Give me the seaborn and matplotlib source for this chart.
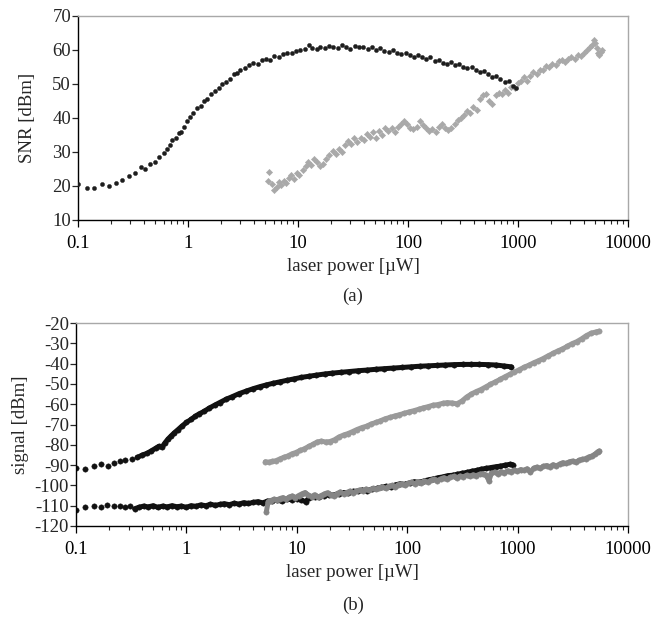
import numpy as np
import pandas as pd
import matplotlib
matplotlib.use("Agg")
import matplotlib.pyplot as plt
import seaborn as sns
from matplotlib.ticker import LogLocator, FixedLocator, NullFormatter

# ---------------- data ----------------
# panel (a): SNR vs laser power
snr_black_x = [0.10, 0.12, 0.14, 0.165, 0.19, 0.22, 0.25, 0.29, 0.33, 0.37, 0.41, 0.45, 0.50, 0.55,
               0.60, 0.64, 0.68, 0.72, 0.77, 0.82, 0.87, 0.92, 0.98, 1.05, 1.12, 1.2, 1.3, 1.4, 1.5,
               1.62, 1.75, 1.9, 2.05, 2.2, 2.4, 2.6, 2.8, 3.0, 3.3, 3.6, 3.9, 4.3, 4.7, 5.1, 5.6,
               6.1, 6.7, 7.3, 8.0, 8.8, 9.6, 10.5, 11.5, 12.5, 13.5, 14.8, 16, 17.5, 19, 21, 23,
               25, 27.5, 30, 33, 36, 39, 43, 47, 51, 56, 61, 67, 73, 80, 87, 95, 104, 113, 123,
               135, 147, 160, 175, 190, 207, 225, 245, 268, 292, 318, 347, 378, 412, 450, 490,
               534, 582, 635, 692, 754, 822, 896, 960]
snr_black_y = [20.5, 19.4, 19.5, 20.6, 19.9, 21.0, 21.8, 23.0, 23.8, 25.5, 25.0, 26.5, 27.2, 28.5,
               29.8, 31.0, 32.0, 33.5, 34.2, 35.5, 36.0, 37.5, 39.0, 40.2, 41.5, 42.8, 43.5, 45.0, 45.5,
               47.0, 47.8, 48.8, 50.0, 50.5, 51.5, 52.8, 53.2, 54.2, 54.8, 55.5, 56.2, 56.0, 57.0, 57.5, 57.2,
               58.2, 58.0, 58.8, 59.2, 59.0, 59.8, 60.0, 60.3, 61.6, 60.5, 60.2, 60.8, 60.5, 61.2, 60.8, 60.5,
               61.5, 60.8, 60.3, 61.2, 60.8, 61.0, 60.4, 60.8, 60.0, 60.5, 59.7, 59.5, 59.9, 59.0, 58.8, 59.2, 58.4, 58.0, 58.5,
               57.8, 57.3, 57.8, 56.8, 57.2, 56.3, 56.0, 56.5, 55.5, 55.8, 55.0, 54.6, 54.9, 54.0, 53.5, 53.8,
               52.8, 52.2, 52.5, 51.4, 50.6, 51.0, 49.5, 48.8]

snr_gray_x = [5.3, 5.5, 5.8, 6.1, 6.4, 6.7, 7.0, 7.4, 7.8, 8.2, 8.7, 9.2, 9.7, 10.3, 11, 11.7, 12.4,
              13.2, 14, 14.9, 15.9, 17, 18.1, 19.3, 20.6, 22, 23.5, 25, 26.7, 28.5, 30.4, 32.4, 34.6,
              37, 39.5, 42, 45, 48, 51, 54.5, 58, 62, 66, 71, 76, 81, 86, 92, 98, 105, 112, 120,
              128, 137, 146, 156, 167, 178, 190, 203, 217, 232, 248, 265, 283, 302, 323, 345, 368,
              393, 420, 449, 480, 513, 548, 585, 625, 668, 714, 763, 815, 871, 930, 994, 1060, 1135,
              1210, 1295, 1380, 1480, 1580, 1690, 1800, 1925, 2055, 2200, 2350, 2510, 2680, 2860,
              3060, 3270, 3490, 3730, 3990, 4260, 4550, 4750, 4900, 5050, 5200, 5350, 5500, 5650, 5800]
snr_gray_y = [21.5, 24.2, 20.5, 18.8, 19.6, 21.2, 20.2, 21.5, 20.8, 22.5, 23.2, 22.0, 23.8, 23.2, 24.8, 25.8, 27.0,
              26.2, 27.8, 27.0, 25.8, 26.5, 27.8, 29.0, 30.2, 29.5, 31.0, 30.0, 32.0, 33.2, 32.5, 34.0, 33.0,
              34.2, 33.5, 35.2, 34.5, 35.8, 34.2, 36.2, 35.0, 37.0, 36.2, 37.0, 36.0, 37.5, 38.2, 39.0, 38.2, 37.2, 36.8, 37.5,
              39.0, 38.0, 37.0, 36.2, 36.8, 36.0, 37.5, 38.2, 37.0, 36.5, 37.2, 38.2, 39.5, 40.0, 41.0, 42.2, 41.5,
              43.2, 42.5, 45.5, 46.8, 47.0, 45.0, 44.2, 46.8, 47.5, 47.0, 48.2, 47.5, 49.2, 48.8, 50.2, 50.8, 52.0,
              51.0, 52.5, 53.5, 52.8, 54.2, 54.0, 55.2, 55.0, 56.0, 55.5, 56.8, 57.2, 56.5, 57.5,
              58.0, 57.5, 58.5, 58.2, 59.0, 60.0, 60.8, 61.5, 63.0, 62.0, 60.5, 59.0, 58.5, 59.5, 60.0]

# panel (b): signal and noise vs laser power
sig_black_x = [0.10, 0.12, 0.145, 0.17, 0.195, 0.22, 0.25, 0.28, 0.32, 0.36, 0.40, 0.44, 0.48, 0.53,
               0.56, 0.60, 0.64, 0.68, 0.73, 0.78, 0.84, 0.91, 1.0, 1.1, 1.2, 1.3, 1.45, 1.6, 1.8,
               2.0, 2.3, 2.6, 3.0, 3.5, 4.0, 4.6, 5.3, 6.1, 7.0, 8.2, 9.5, 11, 13, 15, 18, 21, 25,
               30, 36, 43, 52, 62, 75, 90, 108, 130, 155, 185, 220, 265, 320, 380, 450, 540, 640,
               760, 880]
sig_black_y = [-91.5, -91.8, -90.2, -89.6, -90.4, -89.0, -88.2, -87.6, -87.0, -86.2, -85.0, -84.2, -83.0, -81.6,
               -80.8, -81.2, -79.0, -77.2, -75.5, -74.0, -72.5, -70.8, -69.0, -67.5, -66.0, -64.8, -63.5, -62.0, -60.5,
               -59.2, -57.5, -56.3, -54.8, -53.5, -52.4, -51.4, -50.5, -49.7, -49.0, -48.2, -47.5, -46.8, -46.2, -45.7, -45.1, -44.7, -44.3,
               -43.9, -43.5, -43.2, -42.8, -42.5, -42.2, -41.9, -41.6, -41.3, -41.1, -40.9, -40.7, -40.5, -40.4, -40.4, -40.4, -40.5, -40.7,
               -41.2, -41.6]

sig_gray_x = [5.2, 5.6, 6.0, 6.5, 7.0, 7.6, 8.3, 9.0, 9.8, 10.7, 11.7, 12.8, 14, 15.3, 16.7, 18.2,
              20, 22, 24, 26.5, 29, 32, 35, 39, 43, 47, 52, 57, 63, 70, 77, 85, 94, 104, 115, 127,
              140, 155, 171, 189, 209, 231, 255, 282, 312, 345, 381, 421, 465, 514, 568, 628, 694,
              767, 848, 937, 1036, 1145, 1265, 1398, 1545, 1707, 1887, 2085, 2305, 2547, 2815,
              3111, 3438, 3800, 4200, 4640, 5130, 5500]
sig_gray_y = [-88.3, -88.6, -88.2, -87.8, -87.0, -86.2, -85.5, -84.5, -83.8, -82.8, -82.0, -80.8, -79.8, -78.6, -78.2, -78.6,
              -78.4, -77.5, -76.2, -75.2, -74.5, -73.5, -72.5, -71.5, -70.8, -69.8, -69.0, -68.2, -67.2, -66.5, -65.8, -65.2, -64.5, -63.8, -63.2, -62.5,
              -61.8, -61.2, -60.5, -60.2, -59.6, -59.2, -59.4, -59.8, -58.5, -56.5, -55.0, -53.8, -52.8, -51.5, -50.2, -49.0, -47.8,
              -46.5, -45.3, -44.2, -43.0, -41.8, -40.8, -39.6, -38.6, -37.5, -36.2, -35.0, -33.8, -32.8, -31.5,
              -30.2, -29.2, -27.8, -26.2, -25.0, -24.4, -24.0]

noise_black_x = [0.10, 0.12, 0.145, 0.17, 0.19, 0.22, 0.25, 0.28, 0.31, 0.34, 0.37, 0.41, 0.45, 0.50,
                 0.55, 0.61, 0.67, 0.74, 0.82, 0.90, 1.0, 1.1, 1.22, 1.35, 1.5, 1.65, 1.83, 2.0, 2.2,
                 2.45, 2.7, 3.0, 3.3, 3.65, 4.0, 4.45, 4.9, 5.4, 6.0, 6.6, 7.3, 8.1, 9.0, 10, 11, 12,
                 13, 14.5, 16, 17.5, 19.5, 21.5, 24, 26.5, 29, 32, 35.5, 39, 43, 48, 53, 58, 64, 71,
                 78, 86, 95, 105, 116, 128, 142, 157, 173, 191, 211, 233, 258, 285, 315, 348, 385,
                 425, 470, 520, 574, 635, 700, 775, 856, 900]
noise_black_y = [-112.0, -110.5, -110.2, -110.8, -109.8, -110.3, -110.0, -110.4, -110.0, -111.5, -110.8, -110.2, -110.6, -110.0,
                 -110.8, -110.2, -110.6, -110.0, -110.5, -110.2, -110.8, -110.0, -110.3, -109.6, -110.0, -109.3, -109.8, -109.4, -109.0,
                 -109.5, -108.8, -109.2, -108.5, -108.9, -108.4, -108.0, -108.6, -107.8, -107.5, -107.2, -107.8, -106.8, -107.0, -106.5, -107.2, -108.0,
                 -106.0, -105.5, -105.8, -105.0, -104.5, -104.8, -104.0, -103.5, -103.8, -103.0, -102.8, -102.3, -102.6, -101.8, -101.5, -101.0, -100.5, -100.8,
                 -99.8, -99.2, -99.5, -98.8, -98.2, -98.5, -97.8, -97.2, -96.8, -96.2, -95.8, -95.2, -95.0, -94.5, -94.0, -93.6, -93.0,
                 -92.6, -92.0, -91.6, -91.2, -90.8, -90.5, -90.0, -89.6, -89.8]

noise_gray_x = [5.3, 5.5, 5.8, 6.2, 6.6, 7.0, 7.5, 8.0, 8.5, 9.1, 9.7, 10.4, 11.1, 11.9, 12.7, 13.6,
                14.5, 15.5, 16.6, 17.8, 19, 20.3, 21.7, 23.2, 24.8, 26.5, 28.3, 30.3, 32.4, 34.7, 37.1,
                39.7, 42.4, 45.4, 48.6, 52, 55.6, 59.5, 63.6, 68, 72.8, 77.9, 83.3, 89.1, 95.3, 102,
                109, 117, 125, 134, 143, 153, 164, 175, 188, 201, 215, 230, 246, 263, 281, 301, 322,
                345, 369, 395, 422, 452, 484, 518, 550, 580, 620, 664, 710, 760, 813, 870, 931, 996,
                1066, 1140, 1220, 1306, 1397, 1495, 1600, 1712, 1832, 1960, 2097, 2244, 2401, 2569,
                2749, 2941, 3147, 3367, 3603, 3855, 4125, 4414, 4723, 5053, 5300, 5500]
noise_gray_y = [-113.0, -108.0, -107.5, -106.8, -107.2, -106.5, -106.0, -106.8, -105.8, -105.2, -106.0, -105.0, -104.2, -103.5, -104.8, -105.5,
                -104.6, -105.8, -105.0, -104.2, -103.6, -104.5, -105.2, -104.0, -103.2, -104.2, -103.5, -102.8, -103.6, -103.0, -102.2,
                -102.8, -101.8, -102.5, -101.5, -102.0, -101.2, -100.8, -101.5, -100.5, -100.0, -100.8, -99.6, -99.2, -100.0, -99.0,
                -98.5, -99.2, -98.2, -98.6, -97.8, -98.4, -97.5, -97.0, -97.6, -96.8, -96.2, -97.0, -96.0, -95.6, -96.4, -95.4, -95.8,
                -95.0, -95.5, -94.8, -95.2, -94.5, -94.2, -95.0, -97.6, -94.0, -93.5, -94.2, -93.2, -93.8, -92.8, -93.2, -92.5, -93.0,
                -92.2, -92.6, -91.8, -93.5, -91.5, -91.0, -91.6, -90.6, -90.2, -90.8, -89.8, -90.4, -89.5, -88.8,
                -89.2, -88.4, -88.0, -88.6, -87.6, -87.2, -86.8, -86.0, -85.5, -84.5, -83.5, -83.0]

x_ticks = [0.1, 1, 10, 100, 1000, 10000]
x_tick_labels = ["0.1", "1", "10", "100", "1000", "10000"]
a_y_ticks = [10, 20, 30, 40, 50, 60, 70]
b_y_ticks = [-20, -30, -40, -50, -60, -70, -80, -90, -100, -110, -120]

# ---------------- style ----------------
sns.set_style("ticks")
plt.rcParams["font.family"] = ["Liberation Serif", "DejaVu Serif"]
plt.rcParams["font.size"] = 13

W, H = 659, 621
fig = plt.figure(figsize=(W / 100, H / 100), dpi=100)
ax_a = fig.add_axes([78 / W, 1 - 220 / H, 550 / W, 204 / H])
ax_b = fig.add_axes([76 / W, 1 - 526 / H, 552 / W, 203 / H])

df_a1 = pd.DataFrame({"p": snr_black_x, "v": snr_black_y})
df_a2 = pd.DataFrame({"p": snr_gray_x, "v": snr_gray_y})
sns.scatterplot(data=df_a2, x="p", y="v", ax=ax_a, marker="D", s=10, color="#a9a9a9",
                edgecolor="#a9a9a9", linewidth=0.4, zorder=2)
sns.scatterplot(data=df_a1, x="p", y="v", ax=ax_a, marker="o", s=9, color="#1e1e1e",
                edgecolor="#1e1e1e", linewidth=0.3, zorder=3)

# sparse low-power points show as separate dots; dense parts read as thick bands
series_b = [
    (noise_black_x, noise_black_y, "#111111", 2),
    (noise_gray_x, noise_gray_y, "#858585", 3),
    (sig_black_x, sig_black_y, "#111111", 2),
    (sig_gray_x, sig_gray_y, "#9a9a9a", 3),
]
for xs, ys, col, z in series_b:
    d = pd.DataFrame({"p": xs, "v": ys})
    dense = d[d["p"] >= 0.33]
    sns.lineplot(data=dense, x="p", y="v", ax=ax_b, color=col, linewidth=3.6, sort=False,
                 estimator=None, zorder=z)
    sns.scatterplot(data=d, x="p", y="v", ax=ax_b, marker="o", s=15, color=col,
                    edgecolor=col, linewidth=0.3, zorder=z)

def style(ax, ylim, yticks):
    ax.set_xscale("log")
    ax.set_xlim(0.1, 10000)
    ax.set_ylim(*ylim)
    ax.xaxis.set_major_locator(FixedLocator(x_ticks))
    ax.set_xticklabels(x_tick_labels)
    ax.xaxis.set_minor_locator(LogLocator(base=10, subs=np.arange(2, 10)))
    ax.xaxis.set_minor_formatter(NullFormatter())
    ax.set_yticks(yticks)
    ax.set_yticklabels([str(t) for t in yticks])
    ax.tick_params(axis="x", which="major", direction="out", length=5, width=0.9, pad=6,
                   labelsize=13.5, colors="black")
    ax.tick_params(axis="x", which="minor", direction="out", length=3, width=0.8)
    ax.tick_params(axis="y", which="major", direction="out", length=4, width=0.9, pad=1,
                   labelsize=13.5)
    for s in ["left", "bottom"]:
        ax.spines[s].set_color("black")
        ax.spines[s].set_linewidth(1.0)
    for s in ["top", "right"]:
        ax.spines[s].set_visible(True)
        ax.spines[s].set_color("#a8a8a8")
        ax.spines[s].set_linewidth(1.0)
    ax.set_xlabel("laser power [\u00b5W]", fontsize=13.5, labelpad=4)
    ax.grid(False)
    ax.set_facecolor("white")

style(ax_a, (10, 70), a_y_ticks)
style(ax_b, (-120, -20), b_y_ticks)
ax_a.set_ylabel("SNR [dBm]", fontsize=13.5, labelpad=12)
ax_b.set_ylabel("signal [dBm]", fontsize=13.5, labelpad=4)

fig.text(353 / W, 1 - 296 / H, "(a)", ha="center", va="center", fontsize=13.5)
fig.text(353 / W, 1 - 605 / H, "(b)", ha="center", va="center", fontsize=13.5)

fig.savefig("out.png", dpi=100, facecolor="white")
